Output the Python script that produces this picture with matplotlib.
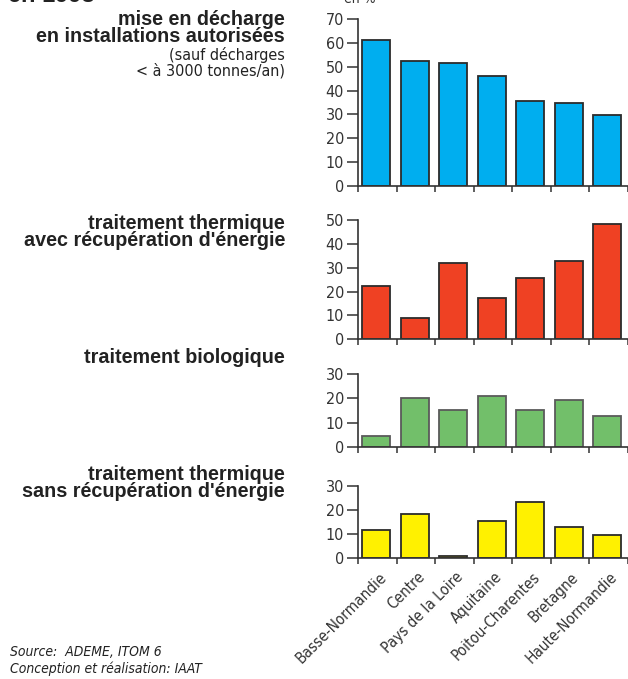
import matplotlib
matplotlib.use('Agg')
import matplotlib.pyplot as plt

regions = ['Basse-Normandie', 'Centre', 'Pays de la Loire', 'Aquitaine',
           'Poitou-Charentes', 'Bretagne', 'Haute-Normandie']

decharge = [61.3, 52.6, 51.8, 46.3, 35.5, 34.6, 29.6]
thermique_avec = [22.2, 8.8, 32.1, 17.3, 25.6, 32.8, 48.2]
biologique = [4.4, 20.1, 15.2, 20.9, 15.4, 19.4, 12.7]
thermique_sans = [11.7, 18.3, 1.0, 15.3, 23.4, 12.8, 9.5]

ylims = [70, 50, 30, 30]
colors = ['#00aeef', '#ef4123', '#72bf6a', '#fff100']
edges = ['#2b2b2b', '#2b2b2b', '#5a5a5a', '#2b2b2b']

W, H = 628, 679
fig = plt.figure(figsize=(W / 100, H / 100), dpi=100)

# panel boxes in pixels: top, bottom
boxes = [(19.3, 185.7), (220, 339.3), (374.3, 446.7), (485.7, 558.3)]
left, right = 358, 627.5

series = [decharge, thermique_avec, biologique, thermique_sans]
narrow = dict(family='DejaVu Sans', stretch='condensed')
axes = []
for k, vals in enumerate(series):
    top, bot = boxes[k]
    ax = fig.add_axes([left / W, 1 - bot / H, (right - left) / W, (bot - top) / H])
    x = [i + 0.47 for i in range(len(vals))]
    ax.bar(x, vals, width=0.73, color=colors[k], edgecolor=edges[k], linewidth=1.3)
    ax.set_xlim(0, 7)
    ax.set_ylim(0, ylims[k])
    ax.set_yticks(range(0, ylims[k] + 1, 10))
    ax.set_xticks(range(0, 8))
    ax.set_xticklabels([])
    ax.spines['top'].set_visible(False)
    ax.spines['right'].set_visible(False)
    for s in ['left', 'bottom']:
        ax.spines[s].set_color('#333333')
        ax.spines[s].set_linewidth(1.2)
    ax.tick_params(axis='y', length=8, width=1.1, color='#333333', pad=2,
                   labelsize=11.5, labelcolor='#333333')
    ax.tick_params(axis='x', length=4, width=1.1, color='#333333')
    for lab in ax.get_yticklabels():
        lab.set_fontstretch('condensed')
    axes.append(ax)

# region labels under the last panel
for i, name in enumerate(regions):
    axes[-1].annotate(name, xy=(i + 0.5, 0), xycoords=('data', 'axes fraction'),
                      xytext=(1, -8), textcoords='offset points',
                      rotation=45, ha='right', va='top', rotation_mode='anchor',
                      fontsize=11, color='#333333', **narrow)

tx = 285 / W


def fy(py):
    return 1 - py / H


# size the bold titles from a measured width
renderer = fig.canvas.get_renderer()
probe = fig.text(0, 0, 'en installations autorisées', fontsize=12, fontweight='bold',
                 family='Liberation Sans')
wpx = probe.get_window_extent(renderer).width
probe.remove()
bsize = 12 * 247 / wpx

bold = dict(ha='right', va='baseline', fontsize=bsize, fontweight='bold',
            color='#222222', family='Liberation Sans')

fig.text(tx, fy(25), 'mise en décharge', **bold)
fig.text(tx, fy(42), 'en installations autorisées', **bold)
fig.text(tx, fy(60), '(sauf décharges', ha='right', va='baseline',
         fontsize=11.5, color='#222222', **narrow)
fig.text(tx, fy(75), '< à 3000 tonnes/an)', ha='right', va='baseline',
         fontsize=11.5, color='#222222', **narrow)

fig.text(tx, fy(229), 'traitement thermique', **bold)
fig.text(tx, fy(246), "avec récupération d'énergie", **bold)

fig.text(tx, fy(363), 'traitement biologique', **bold)

fig.text(tx, fy(480), 'traitement thermique', **bold)
fig.text(tx, fy(497), "sans récupération d'énergie", **bold)

# texts cut by the top edge of the original picture
fig.text(8 / W, fy(2), 'en 1998', ha='left', va='baseline',
         fontsize=17, fontweight='bold', color='#222222', family='Liberation Sans')
fig.text(344 / W, fy(3), 'en %', ha='left', va='baseline',
         fontsize=10, color='#333333', **narrow)

fig.text(10 / W, fy(656), 'Source:  ADEME, ITOM 6', ha='left', va='baseline',
         fontsize=10, style='italic', color='#222222', **narrow)
fig.text(10 / W, fy(673), 'Conception et réalisation: IAAT', ha='left', va='baseline',
         fontsize=10, style='italic', color='#222222', **narrow)

fig.savefig('out.png', dpi=100)
